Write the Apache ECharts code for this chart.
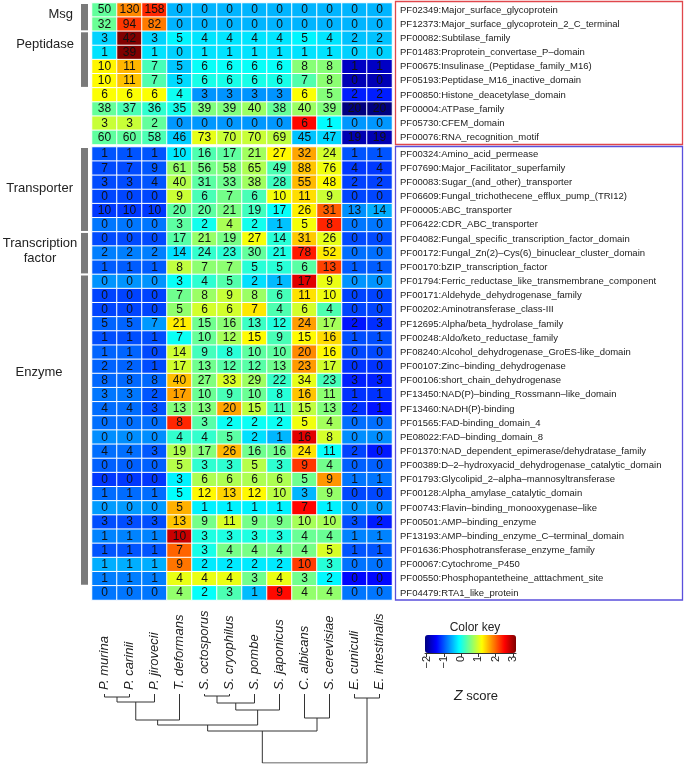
<!DOCTYPE html>
<html><head><meta charset="utf-8">
<script src="https://cdn.jsdelivr.net/npm/echarts@6/dist/echarts.min.js"></script>
<style>html,body{margin:0;padding:0;background:#fff}#c{width:685px;height:765px}</style>
</head><body><div id="c"></div>
<script>
// ---------------- DATA ----------------
const species = ['P. murina','P. carinii','P. jirovecii','T. deformans','S. octosporus','S. cryophilus',
  'S. pombe','S. japonicus','C. albicans','S. cerevisiae','E. cuniculi','E. intestinalis'];

const domains = [
  'PF02349:Major_surface_glycoprotein',
  'PF12373:Major_surface_glycoprotein_2_C_terminal',
  'PF00082:Subtilase_family',
  'PF01483:Proprotein_convertase_P\u2013domain',
  'PF00675:Insulinase_(Peptidase_family_M16)',
  'PF05193:Peptidase_M16_inactive_domain',
  'PF00850:Histone_deacetylase_domain',
  'PF00004:ATPase_family',
  'PF05730:CFEM_domain',
  'PF00076:RNA_recognition_motif',
  'PF00324:Amino_acid_permease',
  'PF07690:Major_Facilitator_superfamily',
  'PF00083:Sugar_(and_other)_transporter',
  'PF06609:Fungal_trichothecene_efflux_pump_(TRI12)',
  'PF00005:ABC_transporter',
  'PF06422:CDR_ABC_transporter',
  'PF04082:Fungal_specific_transcription_factor_domain',
  'PF00172:Fungal_Zn(2)\u2013Cys(6)_binuclear_cluster_domain',
  'PF00170:bZIP_transcription_factor',
  'PF01794:Ferric_reductase_like_transmembrane_component',
  'PF00171:Aldehyde_dehydrogenase_family',
  'PF00202:Aminotransferase_class-III',
  'PF12695:Alpha/beta_hydrolase_family',
  'PF00248:Aldo/keto_reductase_family',
  'PF08240:Alcohol_dehydrogenase_GroES-like_domain',
  'PF00107:Zinc\u2013binding_dehydrogenase',
  'PF00106:short_chain_dehydrogenase',
  'PF13450:NAD(P)\u2013binding_Rossmann\u2013like_domain',
  'PF13460:NADH(P)-binding',
  'PF01565:FAD-binding_domain_4',
  'PE08022:FAD\u2013binding_domain_8',
  'PF01370:NAD_dependent_epimerase/dehydratase_family',
  'PF00389:D\u20132\u2013hydroxyacid_dehydrogenase_catalytic_domain',
  'PF01793:Glycolipid_2\u2013alpha\u2013mannosyltransferase',
  'PF00128:Alpha_amylase_catalytic_domain',
  'PF00743:Flavin\u2013binding_monooxygenase\u2013like',
  'PF00501:AMP\u2013binding_enzyme',
  'PF13193:AMP\u2013binding_enzyme_C\u2013terminal_domain',
  'PF01636:Phosphotransferase_enzyme_family',
  'PF00067:Cytochrome_P450',
  'PF00550:Phosphopantetheine_atttachment_site',
  'PF04479:RTA1_like_protein'
];

const counts = [
  [50,130,158,0,0,0,0,0,0,0,0,0],
  [32,94,82,0,0,0,0,0,0,0,0,0],
  [3,42,3,5,4,4,4,4,5,4,2,2],
  [1,39,1,0,1,1,1,1,1,1,0,0],
  [10,11,7,5,6,6,6,6,8,8,1,1],
  [10,11,7,5,6,6,6,6,7,8,0,0],
  [6,6,6,4,3,3,3,3,6,5,2,2],
  [38,37,36,35,39,39,40,38,40,39,20,20],
  [3,3,2,0,0,0,0,0,6,1,0,0],
  [60,60,58,46,73,70,70,69,45,47,19,19],
  [1,1,1,10,16,17,21,27,32,24,1,1],
  [7,7,9,61,56,58,65,49,88,76,4,4],
  [3,3,4,40,31,33,38,28,55,48,2,2],
  [0,0,0,9,6,7,6,10,11,9,0,0],
  [10,10,10,20,20,21,19,17,26,31,13,14],
  [0,0,0,3,2,4,2,1,5,8,0,0],
  [0,0,0,17,21,19,27,14,31,26,0,0],
  [2,2,2,14,24,23,30,21,78,52,0,0],
  [1,1,1,8,7,7,5,5,6,13,1,1],
  [0,0,0,3,4,5,2,1,17,9,0,0],
  [0,0,0,7,8,9,8,6,11,10,0,0],
  [0,0,0,5,6,6,7,4,6,4,0,0],
  [5,5,7,21,15,16,13,12,24,17,2,3],
  [1,1,1,7,10,12,15,9,15,16,1,1],
  [1,1,0,14,9,8,10,10,20,16,0,0],
  [2,2,1,17,13,12,12,13,23,17,0,0],
  [8,8,8,40,27,33,29,22,34,23,3,3],
  [3,3,2,17,10,9,10,8,16,11,1,1],
  [4,4,3,13,13,20,15,11,15,13,2,1],
  [0,0,0,8,3,2,2,2,5,4,0,0],
  [0,0,0,4,4,5,2,1,16,8,0,0],
  [4,4,3,19,17,26,16,16,24,11,2,0],
  [0,0,0,5,3,3,5,3,9,4,0,0],
  [0,0,0,3,6,6,6,6,5,9,1,1],
  [1,1,1,5,12,13,12,10,3,9,0,0],
  [0,0,0,5,1,1,1,1,7,1,0,0],
  [3,3,3,13,9,11,9,9,10,10,3,2],
  [1,1,1,10,3,3,3,3,4,4,1,1],
  [1,1,1,7,3,4,4,4,4,5,1,1],
  [1,1,1,9,2,2,2,2,10,3,0,0],
  [1,1,1,4,4,4,3,4,3,2,0,0],
  [0,0,0,4,2,3,1,9,4,4,0,0]
];

const splitRow = 10; // rows 0..9 red box, rows 10.. blue box

const groups = [
  {name:'Msg', from:0, to:1},
  {name:'Peptidase', from:2, to:5},
  {name:'Transporter', from:10, to:15},
  {name:'Transcription\nfactor', from:16, to:18},
  {name:'Enzyme', from:19, to:40}
];

// dendrogram (hclust-style: negative = leaf index, 1-based; positive = earlier merge)
const mergePairs = [[-1,-2],[1,-3],[2,-4],[-5,-6],[4,-7],[5,-8],[3,6],[-9,-10],[7,8],[-11,-12],[9,10]];
const mergeHeights = [3,8,26,2,9,16,31,24,37,4,69];

const keyTicks = [-2,-1,0,1,2,3];
const jet = ['#00007F','#0000FF','#007FFF','#00FFFF','#7FFF7F','#FFFF00','#FF7F00','#FF0000','#7F0000'];

// ---------------- DERIVED ----------------
const FONT = 'Liberation Sans, Arial, Helvetica, sans-serif';
const zRows = counts.map(r => {
  const n = r.length, m = r.reduce((a,b)=>a+b,0)/n;
  const sd = Math.sqrt(r.reduce((a,b)=>a+(b-m)*(b-m),0)/(n-1));
  return r.map(v => (v-m)/sd);
});
let zmin = Infinity, zmax = -Infinity;
zRows.forEach(r => r.forEach(z => { zmin = Math.min(zmin,z); zmax = Math.max(zmax,z); }));

const topData = [], botData = [];
counts.forEach((r,i) => r.forEach((v,j) => {
  if (i < splitRow) topData.push([j, i, zRows[i][j], v]);
  else botData.push([j, i - splitRow, zRows[i][j], v]);
}));

// dendrogram geometry from merges
const nodeX = [], nodeH = [];
function cx(k){ return k < 0 ? (-k - 1) : nodeX[k-1]; }
function ch(k){ return k < 0 ? 0 : nodeH[k-1]; }
const dendroLines = mergePairs.map((p,i) => {
  const xa = cx(p[0]), xb = cx(p[1]), ha = ch(p[0]), hb = ch(p[1]), h = mergeHeights[i];
  nodeX.push((xa+xb)/2); nodeH.push(h);
  return {coords: [[xa,ha],[xa,h],[xb,h],[xb,hb]]};
});

// ---------------- CHART ----------------
const chart = echarts.init(document.getElementById('c'), null, {renderer:'canvas'});
const L = 92, R = 293;
const cellLabel = {show:true, formatter: p => p.data[3], color:'#111', fontSize:12, fontFamily:FONT};
const rowAxisLabel = {color:'#222', fontSize:9.5, fontFamily:FONT, margin:8};

const option = {
  animation:false,
  textStyle:{fontFamily:FONT},
  title:[
    {text:'Color key', left:470, top:617, textAlign:'center',
     textStyle:{fontSize:12, fontWeight:'normal', color:'#222', fontFamily:FONT}},
    {text:'{i|Z} score', left:471, top:684, textAlign:'center',
     textStyle:{fontSize:13, fontWeight:'normal', color:'#222', fontFamily:FONT,
       rich:{i:{fontStyle:'italic', fontSize:14, color:'#222', fontFamily:FONT}}}}
  ],
  grid:[
    {left:L, right:R, top:3, height:141.5},
    {left:L, right:R, top:147, height:453},
    {left:L, right:R, top:692, height:1},
    {left:L, right:R, top:694, height:69},
    {left:425, width:91, top:635, height:18}
  ],
  xAxis:[
    {type:'category', data:species, gridIndex:0, show:false},
    {type:'category', data:species, gridIndex:1, show:false},
    {type:'category', data:species, gridIndex:2, position:'top',
     axisLine:{show:false}, axisTick:{show:false},
     axisLabel:{rotate:90, margin:2, fontSize:13, fontStyle:'italic', color:'#222', fontFamily:FONT, interval:0}},
    {type:'value', min:-0.5, max:11.5, gridIndex:3, show:false},
    {type:'value', min:zmin, max:zmax, gridIndex:4, splitLine:{show:false},
     axisLine:{show:true, lineStyle:{color:'#333', width:1}},
     axisTick:{show:true, length:4, lineStyle:{color:'#333'}, customValues:keyTicks},
     axisLabel:{rotate:90, margin:3, fontSize:11, color:'#222', customValues:keyTicks,
       formatter: v => String(v).replace('-', '\u2212')}}
  ],
  yAxis:[
    {type:'category', data:domains.slice(0,splitRow), gridIndex:0, inverse:true, position:'right',
     axisLine:{show:false}, axisTick:{show:false}, axisLabel:rowAxisLabel},
    {type:'category', data:domains.slice(splitRow), gridIndex:1, inverse:true, position:'right',
     axisLine:{show:false}, axisTick:{show:false}, axisLabel:rowAxisLabel},
    {type:'value', gridIndex:2, show:false},
    {type:'value', gridIndex:3, min:0, max:69, inverse:true, show:false},
    {type:'value', gridIndex:4, show:false}
  ],
  visualMap:{
    type:'continuous', min:zmin, max:zmax, dimension:2, seriesIndex:[0,1],
    inRange:{color:jet}, orient:'horizontal', left:425, top:635,
    itemWidth:18, itemHeight:91, calculable:false, padding:0, text:null, showLabel:false
  },
  series:[
    {type:'heatmap', xAxisIndex:0, yAxisIndex:0, data:topData, label:cellLabel,
     itemStyle:{borderColor:'#fff', borderWidth:1}, emphasis:{disabled:true}},
    {type:'heatmap', xAxisIndex:1, yAxisIndex:1, data:botData, label:cellLabel,
     itemStyle:{borderColor:'#fff', borderWidth:1}, emphasis:{disabled:true}},
    {type:'lines', coordinateSystem:'cartesian2d', xAxisIndex:3, yAxisIndex:3, polyline:true,
     data:dendroLines, lineStyle:{color:'#333', width:1, opacity:1}, silent:true}
  ]
};
chart.setOption(option);

// annotations: group bars + labels, boxes
function rowPix(row){
  if (row < splitRow) return chart.convertToPixel({xAxisIndex:0, yAxisIndex:0}, [0, row])[1];
  return chart.convertToPixel({xAxisIndex:1, yAxisIndex:1}, [0, row - splitRow])[1];
}
const pitchTop = rowPix(1) - rowPix(0);
const labelSpec = {
  'Msg':{x:73, align:'right', y:14},
  'Peptidase':{x:74, align:'right', y:44},
  'Transporter':{x:73, align:'right', y:188},
  'Transcription\nfactor':{x:40, align:'center', y:251},
  'Enzyme':{x:39, align:'center', y:372}
};
const graphics = [];
groups.forEach(g => {
  const y1 = rowPix(g.from) - pitchTop/2 + 1, y2 = rowPix(g.to) + pitchTop/2 - 1;
  graphics.push({type:'rect', shape:{x:81, y:y1, width:7, height:y2-y1}, style:{fill:'#7a7a7a'}, silent:true});
  const s = labelSpec[g.name];
  graphics.push({type:'text', x:s.x, y:s.y, silent:true,
    style:{text:g.name, fill:'#222', font:'13px ' + FONT, textAlign:s.align, textVerticalAlign:'middle', lineHeight:15}});
});
const yTop0 = rowPix(0) - pitchTop/2, yTop1 = rowPix(splitRow-1) + pitchTop/2;
const yBot0 = rowPix(splitRow) - pitchTop/2, yBot1 = rowPix(counts.length-1) + pitchTop/2;
graphics.push({type:'rect', shape:{x:395.5, y:yTop0-1.5, width:287, height:yTop1-yTop0+1.5},
  style:{fill:'none', stroke:'#e0474c', lineWidth:1.3}, silent:true});
graphics.push({type:'rect', shape:{x:395.5, y:yBot0-0.5, width:287, height:yBot1-yBot0+0.5},
  style:{fill:'none', stroke:'#5a4fdc', lineWidth:1.3}, silent:true});
chart.setOption({graphic:graphics});
</script></body></html>
